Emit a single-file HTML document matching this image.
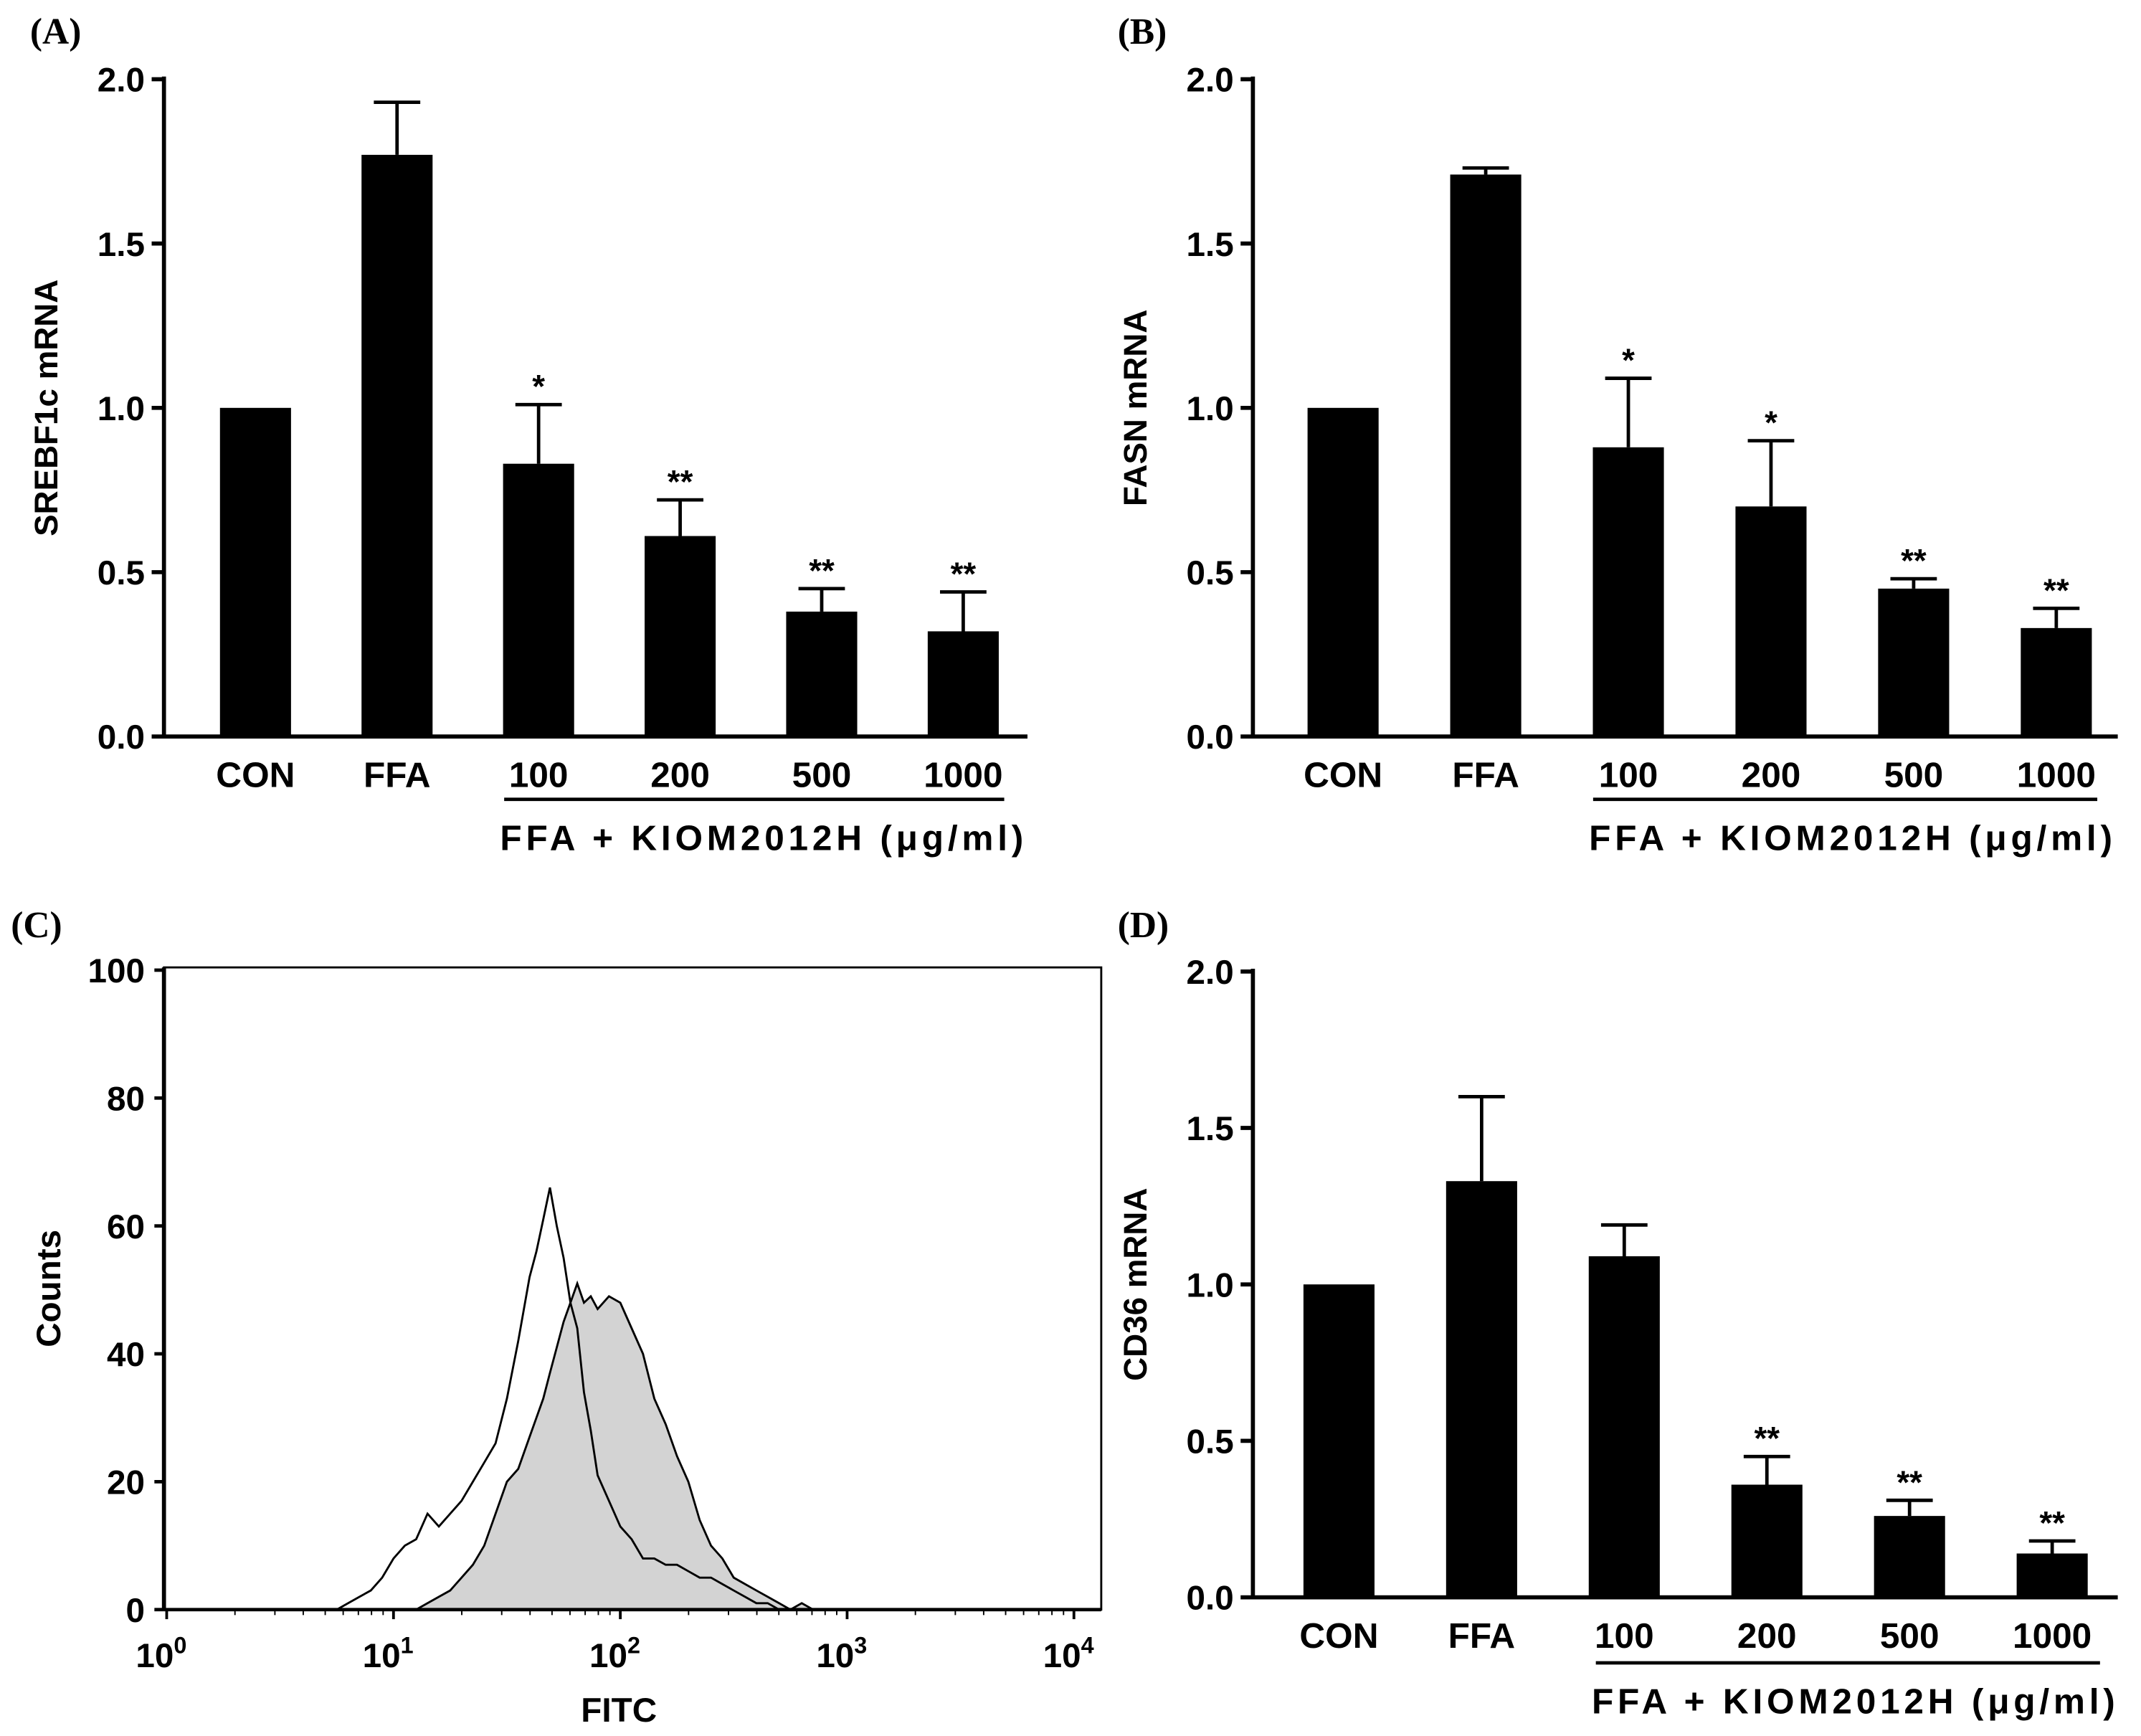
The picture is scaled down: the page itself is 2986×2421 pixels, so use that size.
<!DOCTYPE html>
<html><head><meta charset="utf-8"><style>html,body{margin:0;padding:0;background:#fff}svg{display:block}</style></head>
<body>
<svg id="fig" xmlns="http://www.w3.org/2000/svg" width="2986" height="2421" viewBox="0 0 1567 1270.5" font-family="'Liberation Sans', sans-serif" font-weight="bold">
<rect width="1567" height="1270.5" fill="#fff"/>
</svg>
<script>
const cats=["CON","FFA","100","200","500","1000"];
const valsA=[1.0,1.77,0.83,0.61,0.38,0.32];
const errA=[0,0.16,0.18,0.11,0.07,0.12];
const starsA=["","","*","**","**","**"];
const valsB=[1.0,1.71,0.88,0.70,0.45,0.33];
const errB=[0,0.02,0.21,0.20,0.03,0.06];
const starsB=["","","*","*","**","**"];
const valsD=[1.0,1.33,1.09,0.36,0.26,0.14];
const errD=[0,0.27,0.10,0.09,0.05,0.04];
const starsD=["","","","**","**","**"];
const yTicksBar=[0,0.5,1.0,1.5,2.0];
const yTickLabelsBar=["0.0","0.5","1.0","1.5","2.0"];
const histLogX=[0.75,0.8,0.85,0.9,0.95,1.0,1.05,1.1,1.15,1.2,1.25,1.3,1.35,1.4,1.45,1.5,1.55,1.6,1.63,1.66,1.69,1.72,1.75,1.78,1.81,1.84,1.87,1.9,1.95,2.0,2.05,2.1,2.15,2.2,2.25,2.3,2.35,2.4,2.45,2.5,2.55,2.6,2.65,2.7,2.75,2.8,2.85,2.9];
const ctrlCounts=[0,1,2,3,5,8,10,11,15,13,15,17,20,23,26,33,42,52,56,61,66,60,55,48,44,34,28,21,17,13,11,8,8,7,7,6,5,5,4,3,2,1,1,0,0,0,0,0];
const ffaCounts=[0,0,0,0,0,0,0,0,1,2,3,5,7,10,15,20,22,27,30,33,37,41,45,48,51,48,49,47,49,48,44,40,33,29,24,20,14,10,8,5,4,3,2,1,0,1,0,0];
const cTicksY=[0,20,40,60,80,100];
const cTicksX=[0,1,2,3,4];

const NS="http://www.w3.org/2000/svg";
const svg=document.getElementById('fig');
function el(tag,attrs,parent,text){const e=document.createElementNS(NS,tag);for(const k in attrs)e.setAttribute(k,attrs[k]);if(text!==undefined)e.textContent=text;(parent||svg).appendChild(e);return e;}

function barPanel(cfg){
  const g=el('g',{});
  
  
  const yS=v=>cfg.y0-(v/2)*(cfg.y0-cfg.y2);
  const xS=i=>cfg.xFirst+i*cfg.step;
  const lt=el('text',{x:cfg.lx,y:cfg.ly,'font-family':"'Liberation Serif', serif",'font-size':27},g,cfg.letter);
  
  
  const ax=el('path',{d:`M${cfg.ax} ${cfg.y2-2}V${cfg.y0}H${cfg.xEnd}`,stroke:'#000','stroke-width':3,fill:'none'},g);
  
  
  yTicksBar.forEach((t,i)=>{
    el('line',{x1:cfg.ax-9,x2:cfg.ax,y1:yS(t),y2:yS(t),stroke:'#000','stroke-width':3},g);
    const tx=el('text',{x:cfg.ax-14,y:yS(t)+9,'text-anchor':'end','font-size':25},g,yTickLabelsBar[i]);
    
    
  });
  const yl=el('text',{transform:`translate(${cfg.ax-78},${(cfg.y0+cfg.y2)/2}) rotate(-90)`,'text-anchor':'middle','font-size':24},g,cfg.ylabel);
  
  
  cats.forEach((c,i)=>{
    const v=cfg.vals[i],e=cfg.errs[i],cx=xS(i),w=52;
    if(e>0){
      el('line',{x1:cx,x2:cx,y1:yS(v),y2:yS(v+e),stroke:'#000','stroke-width':2.5},g);
      el('line',{x1:cx-17,x2:cx+17,y1:yS(v+e),y2:yS(v+e),stroke:'#000','stroke-width':2.5},g);
    }
    const b=el('rect',{x:cx-w/2,y:yS(v),width:w,height:cfg.y0-yS(v),fill:'#000'},g);
    
    
    if(cfg.stars[i]){
      const s=el('text',{x:cx,y:yS(v+e)-5,'text-anchor':'middle','font-size':24},g,cfg.stars[i]);
      
      
    }
    const xl=el('text',{x:cx,y:cfg.y0+37,'text-anchor':'middle','font-size':26},g,c);
    
    
  });
  const ul=el('line',{x1:cfg.ulx1,x2:cfg.ulx2,y1:cfg.y0+cfg.uly,y2:cfg.y0+cfg.uly,stroke:'#000','stroke-width':2.5},g);
  
  
  const tl=el('text',{x:cfg.ulx1-3,y:cfg.y0+cfg.uly+37,'font-size':26,textLength:383,lengthAdjust:'spacing'},g,'FFA + KIOM2012H (\u03bcg/ml)');
  
  
}

barPanel({name:'panel-a',letter:'(A)',lx:22,ly:32,ax:120,y0:539,y2:58,xEnd:752,xFirst:187,step:103.6,vals:valsA,errs:errA,stars:starsA,ylabel:'SREBF1c mRNA',ulx1:369,ulx2:735,uly:46});
barPanel({name:'panel-b',letter:'(B)',lx:818,ly:32,ax:917,y0:539,y2:58,xEnd:1550,xFirst:983,step:104.4,vals:valsB,errs:errB,stars:starsB,ylabel:'FASN mRNA',ulx1:1166,ulx2:1535,uly:46});
barPanel({name:'panel-d',letter:'(D)',lx:818,ly:686,ax:917,y0:1169,y2:711,xEnd:1550,xFirst:980,step:104.4,vals:valsD,errs:errD,stars:starsD,ylabel:'CD36 mRNA',ulx1:1168,ulx2:1537,uly:48});

(function(){
  const g=el('g',{});
  
  
  const L=120,R=806,T=708,B=1178;
  const xS=lg=>122+lg*166;
  const yS=c=>B-c*(B-T-2)/100;
  const lt=el('text',{x:8,y:686,'font-family':"'Liberation Serif', serif",'font-size':27},g,'(C)');
  
  
  const pathOf=arr=>'M'+histLogX.map((x,i)=>xS(x).toFixed(1)+' '+yS(arr[i]).toFixed(1)).join('L');
  const fill=el('path',{d:pathOf(ffaCounts)+`L${xS(histLogX[histLogX.length-1])} ${B}L${xS(histLogX[0])} ${B}Z`,fill:'#d3d3d3',stroke:'#000','stroke-width':1.5},g);
  
  
  const ln=el('path',{d:pathOf(ctrlCounts),fill:'none',stroke:'#000','stroke-width':1.5},g);
  
  
  el('line',{x1:L,x2:R,y1:B,y2:B,stroke:'#000','stroke-width':2.5},g);
  const box=el('rect',{x:L,y:T,width:R-L,height:B-T,fill:'none',stroke:'#000','stroke-width':1.5},g);
  
  
  el('line',{x1:L,x2:L,y1:T,y2:B,stroke:'#000','stroke-width':3},g);
  cTicksY.forEach(t=>{
    el('line',{x1:L-7,x2:L,y1:yS(t),y2:yS(t),stroke:'#000','stroke-width':2.5},g);
    const tx=el('text',{x:L-14,y:yS(t)+9,'text-anchor':'end','font-size':25},g,String(t));
    
    
  });
  cTicksX.forEach(d=>{
    el('line',{x1:xS(d),x2:xS(d),y1:B,y2:B+7,stroke:'#000','stroke-width':2},g);
    for(let k=2;k<10&&d<4;k++){const mx=xS(d+Math.log10(k));el('line',{x1:mx,x2:mx,y1:B,y2:B+4,stroke:'#000','stroke-width':1},g);}
    const tx=el('text',{x:xS(d)-4,y:B+42,'text-anchor':'middle','font-size':25},g);
    
    
    el('tspan',{},tx,'10');
    el('tspan',{dy:-10,'font-size':17},tx,String(d));
  });
  const xt=el('text',{x:453,y:1260,'text-anchor':'middle','font-size':25},g,'FITC');
  
  
  const yt=el('text',{transform:`translate(44,943) rotate(-90)`,'text-anchor':'middle','font-size':25},g,'Counts');
  
  
})();
</script>
</body></html>
